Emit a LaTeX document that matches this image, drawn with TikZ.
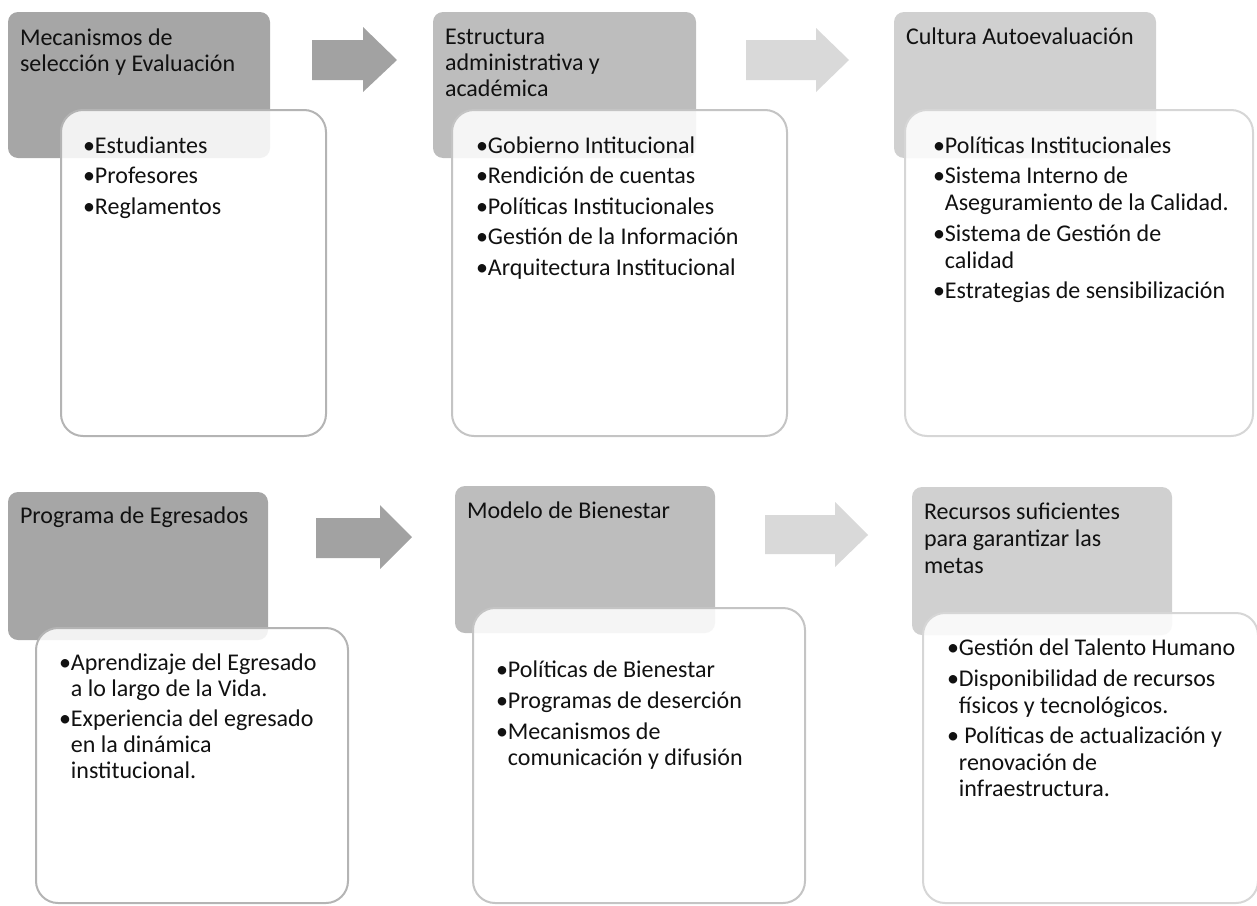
\documentclass[tikz,border=0pt]{standalone}
\usepackage{fontspec}
\setmainfont{Carlito}
\definecolor{grayA}{HTML}{A6A6A6}
\definecolor{grayB}{HTML}{BDBDBD}
\definecolor{grayC}{HTML}{D0D0D0}
\definecolor{arrowA}{HTML}{A2A2A2}
\definecolor{arrowC}{HTML}{D9D9D9}
\definecolor{edgeA}{HTML}{B4B4B4}
\definecolor{edgeB}{HTML}{C4C4C4}
\definecolor{edgeC}{HTML}{D6D6D6}
\definecolor{inktext}{HTML}{111111}
\newcommand\bitem[1]{\hbox{•#1}}
\newcommand\bcont[1]{\hbox{\phantom{•}#1}}
\newcommand\bgap{\vskip3.5pt}
\newcommand\blist[1]{\vtop{\baselineskip=27pt\lineskiplimit=-40pt #1}}
\newcommand\tlist[1]{\vtop{\baselineskip=26pt\lineskiplimit=-40pt #1}}
\tikzset{
  graybox/.style={rounded corners=10pt, inner sep=0pt, outer sep=0pt, anchor=north west, draw=none},
  whitebox/.style={rounded corners=22pt, inner sep=0pt, outer sep=0pt, anchor=north west,
    fill=white, fill opacity=0.86, line width=2pt},
  titletext/.style={anchor=base west, inner sep=0pt, outer sep=0pt, text=inktext,
    font=\fontsize{24pt}{26pt}\selectfont},
  bullettext/.style={anchor=base west, inner sep=0pt, outer sep=0pt, text=inktext,
    font=\fontsize{24pt}{27pt}\selectfont},
}
\begin{document}
\begin{tikzpicture}[x=1pt,y=-1pt]
\useasboundingbox (0,0) rectangle (1257,905);

% ---------- top row ----------
\node[graybox, fill=grayA, minimum width=262pt, minimum height=146pt] (g1) at (8,12) {};
\node[whitebox, draw=edgeA, minimum width=265pt, minimum height=326pt] (w1) at (61,110) {};
\node[titletext] (t1) at (20,45) {\tlist{\hbox{Mecanismos de}\hbox{selección y Evaluación}}};
\node[bullettext] (b1) at (83,153) {\blist{\bitem{Estudiantes}\bgap\bitem{Profesores}\bgap\bitem{Reglamentos}}};

\fill[arrowA] (312,40) -- (363,40) -- (363,27) -- (397,60) -- (363,92) -- (363,80) -- (312,80) -- cycle;

\node[graybox, fill=grayB, minimum width=263pt, minimum height=146pt] (g2) at (433,12) {};
\node[whitebox, draw=edgeB, minimum width=335pt, minimum height=326pt] (w2) at (452,110) {};
\node[titletext] (t2) at (445,44) {\tlist{\hbox{Estructura}\hbox{administrativa y}\hbox{académica}}};
\node[bullettext] (b2) at (476,153) {\blist{\bitem{Gobierno Intitucional}\bgap\bitem{Rendición de cuentas}\bgap\bitem{Políticas Institucionales}\bgap\bitem{Gestión de la Información}\bgap\bitem{Arquitectura Institucional}}};

\fill[arrowC] (746,40) -- (816,40) -- (816,28) -- (849,60) -- (816,92) -- (816,80) -- (746,80) -- cycle;

\node[graybox, fill=grayC, minimum width=262pt, minimum height=146pt] (g3) at (894,12) {};
\node[whitebox, draw=edgeC, minimum width=348pt, minimum height=326pt] (w3) at (905,110) {};
\node[titletext] (t3) at (906,44) {\tlist{\hbox{Cultura Autoevaluación}}};
\node[bullettext] (b3) at (933,153) {\blist{\bitem{Políticas Institucionales}\bgap\bitem{Sistema Interno de}\bcont{Aseguramiento de la Calidad.}\bgap\bitem{Sistema de Gestión de}\bcont{calidad}\bgap\bitem{Estrategias de sensibilización}}};

% ---------- bottom row ----------
\node[graybox, fill=grayA, minimum width=260pt, minimum height=148pt] (g4) at (8,492) {};
\node[whitebox, draw=edgeA, minimum width=312pt, minimum height=275pt] (w4) at (36,628) {};
\node[titletext] (t4) at (20,523) {\tlist{\hbox{Programa de Egresados}}};
\node[bullettext] (b4) at (59,670) {\blist{\baselineskip=26pt\bitem{Aprendizaje del Egresado}\bcont{a lo largo de la Vida.}\vskip4.5pt\bitem{Experiencia del egresado}\bcont{en la dinámica}\bcont{institucional.}}};

\fill[arrowA] (316,518) -- (380,518) -- (380,505) -- (412,537) -- (380,569) -- (380,558) -- (316,558) -- cycle;

\node[graybox, fill=grayB, minimum width=260pt, minimum height=147pt] (g5) at (455,486) {};
\node[whitebox, draw=edgeB, minimum width=332pt, minimum height=295pt] (w5) at (473,608) {};
\node[titletext] (t5) at (467,518) {\tlist{\hbox{Modelo de Bienestar}}};
\node[bullettext] (b5) at (496,677) {\blist{\baselineskip=26pt\bitem{Políticas de Bienestar}\vskip5pt\bitem{Programas de deserción}\vskip5pt\bitem{Mecanismos de}\bcont{comunicación y difusión}}};

\fill[arrowC] (765,515) -- (835,515) -- (835,502) -- (868,535) -- (835,567) -- (835,554) -- (765,554) -- cycle;

\node[graybox, fill=grayC, minimum width=260pt, minimum height=148pt] (g6) at (912,487) {};
\node[whitebox, draw=edgeC, minimum width=335pt, minimum height=290pt] (w6) at (923,613) {};
\node[titletext] (t6) at (924,519) {\tlist{\baselineskip=27pt\hbox{Recursos suficientes}\hbox{para garantizar las}\hbox{metas}}};
\node[bullettext] (b6) at (947,655) {\blist{\baselineskip=26.5pt\bitem{Gestión del Talento Humano}\vskip5pt\bitem{Disponibilidad de recursos}\bcont{físicos y tecnológicos.}\vskip4pt\bitem{\ Políticas de actualización y}\bcont{renovación de}\bcont{infraestructura.}}};
\end{tikzpicture}
\end{document}
